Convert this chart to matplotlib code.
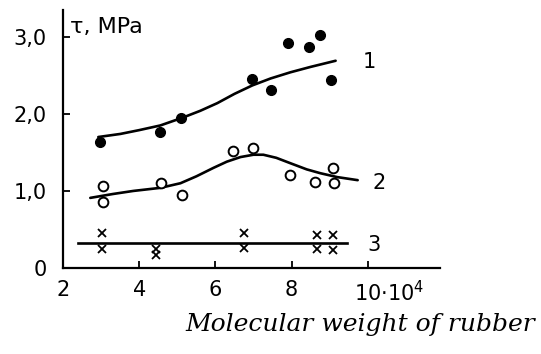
import matplotlib
matplotlib.use('Agg')
import matplotlib.pyplot as plt
import matplotlib.transforms as mtransforms
import numpy as np

# curve 1 (filled circles)
x1 = [2.97, 4.53, 5.10, 6.97, 7.45, 7.90, 8.45, 8.74, 9.05]
y1 = [1.64, 1.77, 1.95, 2.45, 2.31, 2.92, 2.87, 3.03, 2.44]
fit1_x = [2.92, 3.5, 4.0, 4.55, 5.13, 5.6, 6.05, 6.5, 6.97, 7.45, 7.97, 8.5, 9.16]
fit1_y = [1.70, 1.74, 1.79, 1.85, 1.95, 2.04, 2.14, 2.26, 2.37, 2.46, 2.54, 2.61, 2.69]

# curve 2 (open circles)
x2 = [3.05, 3.05, 4.58, 5.13, 6.47, 7.00, 7.97, 8.63, 9.10, 9.13]
y2 = [1.07, 0.86, 1.10, 0.95, 1.52, 1.56, 1.21, 1.12, 1.30, 1.10]
fit2_x = [2.71, 3.3, 3.84, 4.55, 5.08, 5.5, 5.95, 6.3, 6.66, 7.0, 7.26, 7.6, 7.97, 8.4, 8.76, 9.2, 9.74]
fit2_y = [0.91, 0.96, 1.00, 1.04, 1.10, 1.19, 1.30, 1.38, 1.44, 1.47, 1.47, 1.43, 1.36, 1.28, 1.23, 1.18, 1.14]

# curve 3 (crosses)
x3 = [3.03, 3.03, 4.45, 4.45, 6.74, 6.74, 8.68, 9.08, 8.68, 9.08]
y3 = [0.45, 0.25, 0.25, 0.17, 0.45, 0.26, 0.43, 0.43, 0.25, 0.23]
fit3_x = [2.39, 9.47]
fit3_y = [0.33, 0.33]

xticks = [2, 4, 6, 8, 10]
xticklabels = ['2', '4', '6', '8', '10·10$^4$']
yticks = [0, 1, 2, 3]
yticklabels = ['0', '1,0', '2,0', '3,0']

fig = plt.figure(figsize=(5.41, 3.54), dpi=100)
ax = fig.add_axes([0.117, 0.243, 0.696, 0.729])

ax.plot(fit1_x, fit1_y, color='black', lw=1.9, solid_capstyle='round', solid_joinstyle='round')
ax.plot(fit2_x, fit2_y, color='black', lw=1.9, solid_capstyle='round', solid_joinstyle='round')
ax.plot(fit3_x, fit3_y, color='black', lw=1.9)

ax.plot(x1, y1, 'o', ms=7, mfc='black', mec='black', ls='none')
ax.plot(x2, y2, 'o', ms=7, mfc='white', mec='black', mew=1.4, ls='none')
ax.plot(x3, y3, 'x', ms=5.5, color='black', mew=1.3, ls='none')

ax.set_xlim(2, 11.9)
ax.set_ylim(0, 3.35)
for s in ['top', 'right']:
    ax.spines[s].set_visible(False)
for s in ['left', 'bottom']:
    ax.spines[s].set_linewidth(1.6)

ax.set_xticks(xticks)
ax.set_xticklabels(xticklabels)
ax.set_yticks(yticks)
ax.set_yticklabels(yticklabels)
ax.tick_params(direction='in', length=5, width=1.3, labelsize=15, pad=9)
ax.tick_params(axis='y', pad=12)

lab = ax.get_xticklabels()[-1]
lab.set_horizontalalignment('left')
lab.set_transform(lab.get_transform() + mtransforms.ScaledTranslation(-0.14, 0, fig.dpi_scale_trans))

ax.text(2.17, 3.13, 'τ, MPa', fontsize=16, va='center', ha='left')
ax.text(9.88, 2.68, '1', fontsize=15, va='center', ha='left')
ax.text(10.14, 1.10, '2', fontsize=15, va='center', ha='left')
ax.text(10.0, 0.30, '3', fontsize=15, va='center', ha='left')

fig.text(0.665, 0.082, 'Molecular weight of rubber', fontsize=18, style='italic',
         ha='center', va='center', family='DejaVu Serif')

fig.savefig('out.png', dpi=100)
